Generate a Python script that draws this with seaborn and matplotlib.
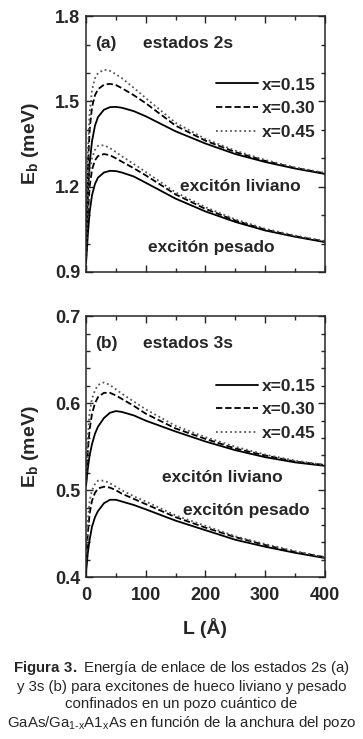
""" Binding energy of 2s and 3s exciton states vs well width """

import numpy as np
import pandas as pd
import matplotlib
matplotlib.use("Agg")
import matplotlib.pyplot as plt
from matplotlib.ticker import MultipleLocator
import seaborn as sns

# Well width grid (Angstrom) shared by every curve
L = [0, 3, 6, 10, 15, 20, 30, 40, 50, 60, 80, 100, 150, 200, 250, 300, 350, 400]

x_labels = ["x=0.15", "x=0.30", "x=0.45"]

# Panel (a): 2s states (meV)
light_2s = {
    "x=0.15": [0.98, 1.16, 1.28, 1.36, 1.415, 1.445, 1.471, 1.480, 1.481, 1.478, 1.466, 1.448, 1.395, 1.352, 1.315, 1.287, 1.264, 1.245],
    "x=0.30": [1.00, 1.26, 1.40, 1.48, 1.522, 1.543, 1.559, 1.562, 1.558, 1.547, 1.522, 1.494, 1.415, 1.362, 1.322, 1.291, 1.266, 1.247],
    "x=0.45": [1.02, 1.32, 1.46, 1.54, 1.582, 1.600, 1.612, 1.608, 1.596, 1.582, 1.548, 1.512, 1.425, 1.368, 1.327, 1.294, 1.268, 1.249],
}
heavy_2s = {
    "x=0.15": [0.93, 1.03, 1.11, 1.17, 1.21, 1.232, 1.250, 1.256, 1.255, 1.250, 1.236, 1.214, 1.158, 1.113, 1.076, 1.046, 1.024, 1.005],
    "x=0.30": [0.94, 1.10, 1.20, 1.26, 1.293, 1.308, 1.315, 1.311, 1.300, 1.288, 1.265, 1.240, 1.173, 1.122, 1.081, 1.049, 1.026, 1.007],
    "x=0.45": [0.95, 1.15, 1.25, 1.30, 1.330, 1.344, 1.346, 1.336, 1.322, 1.307, 1.280, 1.252, 1.180, 1.128, 1.085, 1.052, 1.028, 1.009],
}

# Panel (b): 3s states (meV)
light_3s = {
    "x=0.15": [0.505, 0.525, 0.540, 0.553, 0.565, 0.573, 0.583, 0.589, 0.591, 0.590, 0.586, 0.580, 0.5675, 0.556, 0.546, 0.538, 0.532, 0.528],
    "x=0.30": [0.507, 0.545, 0.570, 0.588, 0.600, 0.607, 0.612, 0.612, 0.609, 0.605, 0.597, 0.588, 0.571, 0.559, 0.548, 0.540, 0.533, 0.529],
    "x=0.45": [0.510, 0.560, 0.590, 0.605, 0.615, 0.621, 0.624, 0.621, 0.616, 0.611, 0.602, 0.593, 0.574, 0.561, 0.550, 0.541, 0.534, 0.529],
}
heavy_3s = {
    "x=0.15": [0.405, 0.428, 0.443, 0.458, 0.469, 0.476, 0.485, 0.489, 0.489, 0.487, 0.483, 0.478, 0.465, 0.454, 0.443, 0.435, 0.428, 0.422],
    "x=0.30": [0.410, 0.450, 0.473, 0.488, 0.497, 0.502, 0.504, 0.503, 0.500, 0.496, 0.490, 0.484, 0.469, 0.457, 0.446, 0.437, 0.429, 0.423],
    "x=0.45": [0.415, 0.465, 0.488, 0.500, 0.507, 0.511, 0.511, 0.508, 0.504, 0.500, 0.493, 0.487, 0.471, 0.459, 0.447, 0.438, 0.430, 0.423],
}


def to_long(light, heavy):
    rows = []
    for name, curves in (("liviano", light), ("pesado", heavy)):
        for xl, vals in curves.items():
            for l, e in zip(L, vals):
                rows.append({"L": l, "Eb": e, "x": xl, "exciton": name})
    return pd.DataFrame(rows)


sns.set_style("ticks")
plt.rcParams["font.family"] = ["Liberation Sans", "DejaVu Sans"]
plt.rcParams["mathtext.fontset"] = "custom"
plt.rcParams["mathtext.rm"] = "Liberation Sans"
plt.rcParams["mathtext.bf"] = "Liberation Sans:bold"

fig = plt.figure(figsize=(3.63, 7.39), dpi=100)
ax_a = fig.add_axes([0.237, 0.632, 0.658, 0.346])
ax_b = fig.add_axes([0.237, 0.219, 0.658, 0.353])

palette = {"x=0.15": "black", "x=0.30": "black", "x=0.45": "#555555"}
dashes = {"x=0.15": "", "x=0.30": (3.5, 1.6), "x=0.45": (1, 1.6)}
bold = {"weight": "bold", "size": 12.5, "va": "center"}

panels = [
    (ax_a, to_long(light_2s, heavy_2s), (0.9, 1.8), 0.3, 0.1, "(a)", "estados 2s",
     [(0.393, 0.336, "excitón liviano"), (0.26, 0.094, "excitón pesado")]),
    (ax_b, to_long(light_3s, heavy_3s), (0.4, 0.7), 0.1, 0.02, "(b)", "estados 3s",
     [(0.318, 0.383, "excitón liviano"), (0.406, 0.257, "excitón pesado")]),
]

for ax, df, ylim, ymaj, ymin, tag, title, notes in panels:
    sns.lineplot(data=df, x="L", y="Eb", hue="x", style="x", units="exciton",
                 estimator=None, palette=palette, dashes=dashes,
                 hue_order=x_labels, style_order=x_labels,
                 linewidth=1.3, ax=ax)
    ax.set_xlim(0, 400)
    ax.set_ylim(*ylim)
    ax.xaxis.set_major_locator(MultipleLocator(100))
    ax.xaxis.set_minor_locator(MultipleLocator(50))
    ax.yaxis.set_major_locator(MultipleLocator(ymaj))
    ax.yaxis.set_minor_locator(MultipleLocator(ymin))
    ax.tick_params(which="both", direction="in", top=True, right=True, width=1)
    ax.tick_params(which="major", length=5, labelsize=13, pad=4)
    ax.tick_params(axis="x", which="major", pad=7)
    ax.tick_params(which="minor", length=3)
    for lab in ax.get_xticklabels() + ax.get_yticklabels():
        lab.set_fontweight("bold")
    for sp in ax.spines.values():
        sp.set_linewidth(1.1)
    ax.set_ylabel("E$_\\mathbf{b}$ (meV)", fontsize=14, fontweight="bold")
    ax.yaxis.set_label_coords(-0.19, 0.5)
    ax.set_xlabel("")

    ax.text(0.038, 0.894, tag, transform=ax.transAxes, **bold)
    ax.text(0.24, 0.894, title, transform=ax.transAxes, **bold)
    for tx, ty, s in notes:
        ax.text(tx, ty, s, transform=ax.transAxes, **bold)

    handles, labels = ax.get_legend_handles_labels()
    ax.legend(handles, labels, loc="upper right", bbox_to_anchor=(1.0, 0.795),
              frameon=False, handlelength=2.4, handletextpad=0.25,
              labelspacing=0.5, borderaxespad=0.1,
              prop={"weight": "bold", "size": 12.5})

ax_a.set_xticklabels([])
ax_b.set_xlabel("L (Å)", fontsize=14, fontweight="bold", labelpad=10)

caption = ("$\\bf{Figura\\ 3.}$ Energía de enlace de los estados 2s (a)\n"
           "y 3s (b) para excitones de hueco liviano y pesado\n"
           "confinados en un pozo cuántico de\n"
           "GaAs/Ga$_{\\mathrm{1\\text{-}x}}$A1$_{\\mathrm{x}}$As en función de la anchura del pozo")
fig.text(0.5, 0.059, caption, ha="center", va="center", fontsize=10.8, linespacing=1.27)

fig.savefig("out.png", dpi=100)
